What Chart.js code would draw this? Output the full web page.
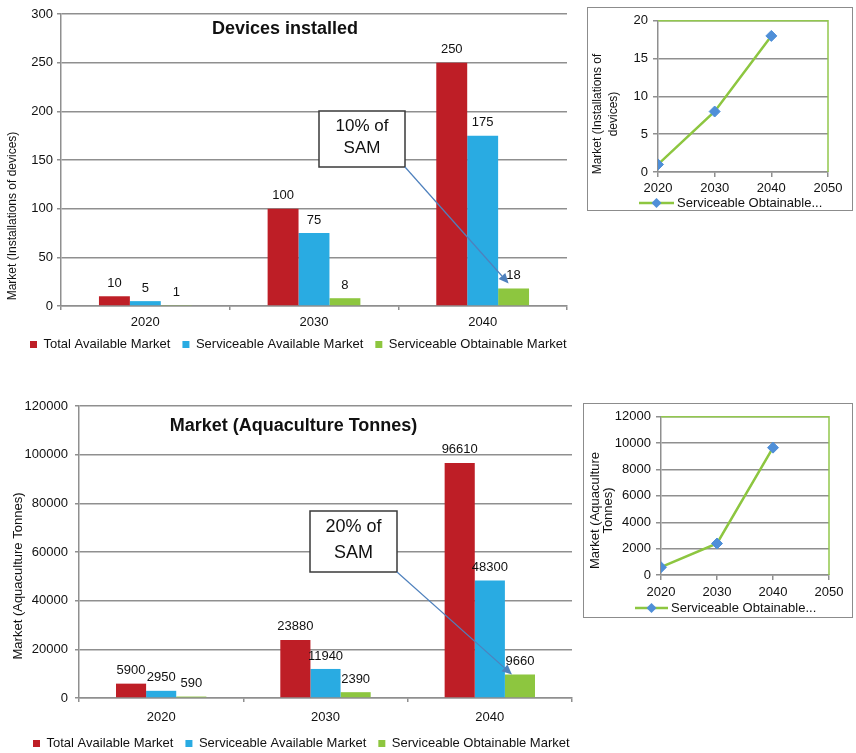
<!DOCTYPE html>
<html><head><meta charset="utf-8">
<script src="https://cdn.jsdelivr.net/npm/chart.js@4/dist/chart.umd.min.js"></script>
<style>
html,body{margin:0;padding:0;background:#fff;overflow:hidden;}
#wrap{position:relative;width:856px;height:753px;overflow:hidden;background:#fff;}
canvas{position:absolute;}
.frame{position:absolute;border:1px solid #8c8c8c;box-sizing:border-box;pointer-events:none;}
</style></head><body>
<div id="wrap">
<canvas id="cA" width="600" height="361" style="left:0px;top:0px"></canvas>
<canvas id="cC" width="600" height="380" style="left:0px;top:380px"></canvas>
<canvas id="cB" width="264" height="202" style="left:588px;top:8px"></canvas>
<div class="frame" style="left:587px;top:7px;width:266px;height:204px"></div>
<canvas id="cD" width="268" height="213" style="left:584px;top:404px"></canvas>
<div class="frame" style="left:583px;top:403px;width:270px;height:215px"></div>
</div>
<script>
// ---- data ----
const years = ['2020', '2030', '2040'];
const lineYears = [2020, 2030, 2040];
const seriesNames = ['Total Available Market', 'Serviceable Available Market', 'Serviceable Obtainable Market'];
const insetLegendName = 'Serviceable Obtainable...';
const deviceTAM = [10, 100, 250];
const deviceSAM = [5, 75, 175];
const deviceSOM = [1, 8, 18];
const tonnesTAM = [5900, 23880, 96610];
const tonnesSAM = [2950, 11940, 48300];
const tonnesSOM = [590, 2390, 9660];
const deviceTicks = [0, 50, 100, 150, 200, 250, 300];
const tonneTicks = [0, 20000, 40000, 60000, 80000, 100000, 120000];
const deviceInsetTicks = [0, 5, 10, 15, 20];
const tonneInsetTicks = [0, 2000, 4000, 6000, 8000, 10000, 12000];
const insetYearTicks = [2020, 2030, 2040, 2050];

// ---- styles ----
const FONT = "'Liberation Sans', Arial, sans-serif";
const RED = '#BE1E26';
const BLUE = '#29ABE2';
const GREEN = '#8DC63F';
const LINE_GREEN = '#8DC640';
const MARK = '#4F8FD8';
const GRID = '#8f8f8f';
const TXT = '#111111';

function diamond(ctx, x, y, r) {
  ctx.beginPath();
  ctx.moveTo(x, y - r); ctx.lineTo(x + r, y); ctx.lineTo(x, y + r); ctx.lineTo(x - r, y);
  ctx.closePath(); ctx.fill();
}

const overlay = {
  id: 'overlay',
  beforeDatasetsDraw(chart, args, o) {
    if (!o.frame) return;
    const ctx = chart.ctx, a = chart.chartArea;
    ctx.save();
    ctx.strokeStyle = o.frame; ctx.lineWidth = 1.5;
    ctx.beginPath(); ctx.moveTo(a.left, a.top); ctx.lineTo(a.right, a.top); ctx.lineTo(a.right, a.bottom); ctx.stroke();
    ctx.restore();
  },
  afterDatasetsDraw(chart, args, o) {
    if (!o.values) return;
    const ctx = chart.ctx;
    ctx.save();
    ctx.fillStyle = TXT; ctx.font = o.values.size + 'px ' + FONT;
    ctx.textAlign = 'center'; ctx.textBaseline = 'middle';
    chart.data.datasets.forEach((ds, di) => {
      chart.getDatasetMeta(di).data.forEach((el, i) => {
        ctx.fillText(String(ds.data[i]), el.x, el.y - o.values.offset);
      });
    });
    ctx.restore();
  },
  afterDraw(chart, args, o) {
    const ctx = chart.ctx;
    ctx.save();
    ctx.fillStyle = TXT;
    if (o.title) {
      ctx.font = 'bold ' + o.title.size + 'px ' + FONT;
      ctx.textAlign = 'center'; ctx.textBaseline = 'middle';
      ctx.fillText(o.title.text, o.title.x, o.title.y);
    }
    if (o.axisTitle) {
      const t = o.axisTitle;
      ctx.font = t.size + 'px ' + FONT;
      ctx.textAlign = 'center'; ctx.textBaseline = 'middle';
      t.lines.forEach((line, i) => {
        ctx.save();
        ctx.translate(t.x[i], t.y);
        ctx.rotate(-Math.PI / 2);
        ctx.fillText(line, 0, 0);
        ctx.restore();
      });
    }
    if (o.lineLegend) {
      const g = o.lineLegend;
      ctx.strokeStyle = LINE_GREEN; ctx.lineWidth = 2.5;
      ctx.beginPath(); ctx.moveTo(g.x1, g.y); ctx.lineTo(g.x2, g.y); ctx.stroke();
      ctx.fillStyle = MARK;
      diamond(ctx, (g.x1 + g.x2) / 2, g.y, 5);
      ctx.fillStyle = TXT;
      ctx.font = g.size + 'px ' + FONT;
      ctx.textAlign = 'left'; ctx.textBaseline = 'middle';
      ctx.fillText(chart.data.datasets[0].label, g.tx, g.y);
    }
    if (o.note) {
      const n = o.note;
      const el = chart.getDatasetMeta(n.ds).data[n.index];
      const sx = n.x + n.w, sy = n.y + n.h;
      const ex = el.x + n.dx, ey = el.y + n.dy;
      ctx.fillStyle = '#ffffff';
      ctx.fillRect(n.x, n.y, n.w, n.h);
      ctx.strokeStyle = '#3a3a3a'; ctx.lineWidth = 1.5;
      ctx.strokeRect(n.x, n.y, n.w, n.h);
      ctx.fillStyle = TXT;
      ctx.font = n.size + 'px ' + FONT;
      ctx.textAlign = 'center'; ctx.textBaseline = 'middle';
      n.lines.forEach((line, i) => ctx.fillText(line, n.x + n.w / 2, n.ly[i]));
      const ang = Math.atan2(ey - sy, ex - sx);
      const L = 10, W = 4.5;
      const bx = ex - L * Math.cos(ang), by = ey - L * Math.sin(ang);
      ctx.strokeStyle = '#4F81BD'; ctx.fillStyle = '#4F81BD'; ctx.lineWidth = 1.2;
      ctx.beginPath(); ctx.moveTo(sx, sy); ctx.lineTo(bx, by); ctx.stroke();
      ctx.beginPath();
      ctx.moveTo(ex, ey);
      ctx.lineTo(bx + W * Math.sin(ang), by - W * Math.cos(ang));
      ctx.lineTo(bx - W * Math.sin(ang), by + W * Math.cos(ang));
      ctx.closePath(); ctx.fill();
    }
    ctx.restore();
  }
};

function tickSet(arr) { return s => { s.ticks = arr.map(v => ({ value: v })); }; }
const font13 = { family: FONT, size: 13 };

function barChart(id, tam, sam, som, yTicks, padLeft, padTop, yWidth, rightWidth, xHeight, xPad, yPad, overlayOpts) {
  return new Chart(document.getElementById(id), {
    type: 'bar',
    data: {
      labels: years,
      datasets: [
        { label: seriesNames[0], data: tam, backgroundColor: RED },
        { label: seriesNames[1], data: sam, backgroundColor: BLUE },
        { label: seriesNames[2], data: som, backgroundColor: GREEN }
      ]
    },
    options: {
      responsive: false, animation: false, devicePixelRatio: 1,
      layout: { padding: { left: padLeft, top: padTop, right: 0, bottom: 0 } },
      datasets: { bar: { categoryPercentage: 0.55, barPercentage: 1 } },
      scales: {
        x: {
          grid: { display: true, drawOnChartArea: false, offset: true, color: GRID, lineWidth: 1.5, tickLength: 4 },
          border: { color: GRID, width: 1.5 },
          ticks: { font: font13, color: TXT, padding: xPad },
          afterFit: s => { s.height = xHeight; }
        },
        y: {
          min: yTicks[0], max: yTicks[yTicks.length - 1],
          afterBuildTicks: tickSet(yTicks),
          grid: { color: GRID, lineWidth: 1.5, tickLength: 4 },
          border: { color: GRID, width: 1.5 },
          ticks: { font: font13, color: TXT, padding: yPad, callback: v => String(v) },
          afterFit: s => { s.width = yWidth; }
        },
        gap: {
          position: 'right',
          grid: { display: false }, border: { display: false }, ticks: { display: false },
          afterFit: s => { s.width = rightWidth; }
        }
      },
      plugins: {
        legend: { position: 'bottom', align: 'start', labels: { boxWidth: 7, boxHeight: 7, padding: 12, color: TXT, font: font13 } },
        tooltip: { enabled: false },
        overlay: overlayOpts
      }
    },
    plugins: [overlay]
  });
}

function lineChart(id, vals, yTicks, pad, yWidth, xHeight, xPad, overlayOpts) {
  return new Chart(document.getElementById(id), {
    type: 'line',
    data: {
      datasets: [{
        label: insetLegendName,
        data: lineYears.map((x, i) => ({ x: x, y: vals[i] })),
        borderColor: LINE_GREEN, borderWidth: 2.5, tension: 0,
        pointStyle: 'rectRot', pointRadius: 5.5,
        pointBackgroundColor: MARK, pointBorderColor: MARK, pointBorderWidth: 1
      }]
    },
    options: {
      responsive: false, animation: false, devicePixelRatio: 1,
      layout: { padding: pad },
      scales: {
        x: {
          type: 'linear', min: insetYearTicks[0], max: insetYearTicks[insetYearTicks.length - 1],
          afterBuildTicks: tickSet(insetYearTicks),
          grid: { drawOnChartArea: false, color: GRID, lineWidth: 1.5, tickLength: 5 },
          border: { color: GRID, width: 1.5 },
          ticks: { font: font13, color: TXT, padding: xPad, callback: v => String(v) },
          afterFit: s => { s.height = xHeight; }
        },
        y: {
          min: yTicks[0], max: yTicks[yTicks.length - 1],
          afterBuildTicks: tickSet(yTicks),
          grid: { color: GRID, lineWidth: 1.5, tickLength: 5 },
          border: { color: GRID, width: 1.5 },
          ticks: { font: font13, color: TXT, padding: 5, callback: v => String(v) },
          afterFit: s => { s.width = yWidth; }
        }
      },
      plugins: {
        legend: { display: false },
        tooltip: { enabled: false },
        overlay: overlayOpts
      }
    },
    plugins: [overlay]
  });
}

// Top bar chart: devices (chart area 61..567 x 14..306)
barChart('cA', deviceTAM, deviceSAM, deviceSOM, deviceTicks,
  18, 14, 43, 33, 20, 4.5, 4, {
    values: { size: 13, offset: 13 },
    title: { text: 'Devices installed', x: 285, y: 29, size: 18 },
    axisTitle: { lines: ['Market (Installations of devices)'], x: [13], y: 216, size: 12 },
    note: { x: 319, y: 111, w: 86, h: 56, lines: ['10% of', 'SAM'], ly: [126, 148.5], size: 17, ds: 2, index: 2, dx: -5, dy: -5 }
  });

// Bottom bar chart: tonnes (chart area 79..572 x 26..318 in canvas)
barChart('cC', tonnesTAM, tonnesSAM, tonnesSOM, tonneTicks,
  21, 26, 58, 28, 27, 7.5, 7, {
    values: { size: 13, offset: 13 },
    title: { text: 'Market (Aquaculture Tonnes)', x: 293.5, y: 46, size: 18 },
    axisTitle: { lines: ['Market (Aquaculture Tonnes)'], x: [18], y: 196, size: 13 },
    note: { x: 310, y: 131, w: 87, h: 61, lines: ['20% of', 'SAM'], ly: [147, 173], size: 18, ds: 2, index: 2, dx: -8, dy: 0 }
  });

// Top inset (chart area 70..240 x 10..164 in canvas)
lineChart('cB', deviceSOM, deviceInsetTicks,
  { left: 0, top: 10, right: 24, bottom: 18 }, 70, 20, 3.5, {
    frame: '#92C84E',
    axisTitle: { lines: ['Market (Installations of', 'devices)'], x: [10, 26], y: 106, size: 12 },
    lineLegend: { x1: 51, x2: 86, y: 195, tx: 89, size: 13 }
  });

// Bottom inset (chart area 77..245 x 8..171 in canvas)
lineChart('cD', tonnesSOM, tonneInsetTicks,
  { left: 0, top: 8, right: 23, bottom: 20 }, 77, 22, 4.5, {
    frame: '#92C84E',
    axisTitle: { lines: ['Market (Aquaculture', 'Tonnes)'], x: [11, 24], y: 106.5, size: 13 },
    lineLegend: { x1: 51, x2: 84, y: 204, tx: 87, size: 13 }
  });
</script>
</body></html>
